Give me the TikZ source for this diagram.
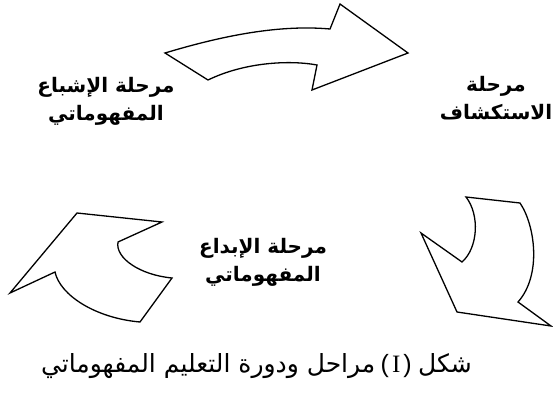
\documentclass[tikz,border=0pt]{standalone}
\usepackage{fontspec}
\usepackage{tikz}
\usetikzlibrary{positioning}
\TeXXeTstate=1
\newfontfamily\arabicfont[Script=Arabic, BoldFont={DejaVu Sans Bold}]{DejaVu Sans}
\newfontfamily\latinserif{Liberation Serif}
\newfontfamily\latinsans{Liberation Sans}
\definecolor{inkline}{RGB}{0,0,0}

\begin{document}
\begin{tikzpicture}[x=1pt, y=-1pt,
    arrowshape/.style={draw=inkline, fill=white, line width=1.3pt, line join=miter},
    stagelabel/.style={align=center, inner sep=0pt, font=\arabicfont\bfseries\fontsize{20}{28}\selectfont},
    captext/.style={inner sep=0pt, font=\arabicfont\fontsize{25}{28}\selectfont},
  ]
  \useasboundingbox (0,0) rectangle (553,393);

  % top arrow
  \draw[arrowshape] (165,53) .. controls (215,38) and (275,24) .. (330,29)
    -- (340,4) -- (408,53) -- (312,90) -- (317,65)
    .. controls (290,60) and (245,62) .. (208,80) -- cycle;

  % right arrow
  \draw[arrowshape] (466,197) -- (520,203)
    .. controls (535,225) and (542,275) .. (518,302)
    -- (551,326) -- (457,312) -- (421,233) -- (462,262)
    .. controls (478,248) and (480,215) .. cycle;

  % left arrow
  \draw[arrowshape] (77,213) -- (162,222) -- (118,242)
    .. controls (115,258) and (140,275) .. (172,278)
    -- (140,322) .. controls (95,318) and (60,295) .. (55,272)
    -- (10,293) -- cycle;

  \node[stagelabel] (satiation) at (106,101)
    {\beginR مرحلة الإشباع\endR\\\beginR المفهوماتي\endR};
  \node[stagelabel] (explore) at (496,98)
    {\beginR مرحلة\endR\\\beginR الاستكشاف\endR};
  \node[stagelabel] (create) at (263,262)
    {\beginR مرحلة الإبداع\endR\\\beginR المفهوماتي\endR};

  % caption, split so the number keeps its place
  \node[captext, anchor=base east] (capword) at (472,372) {\beginR شكل\endR};
  \node[captext, anchor=base east, xshift=-6pt] (capnum) at (capword.base west)
    {{\latinsans(}\kern3pt{\latinserif I}\kern3pt{\latinsans)}};
  \node[captext, anchor=base east, xshift=-5pt] (captail) at (capnum.base west)
    {\beginR مراحل ودورة التعليم المفهوماتي\endR};
\end{tikzpicture}
\end{document}
